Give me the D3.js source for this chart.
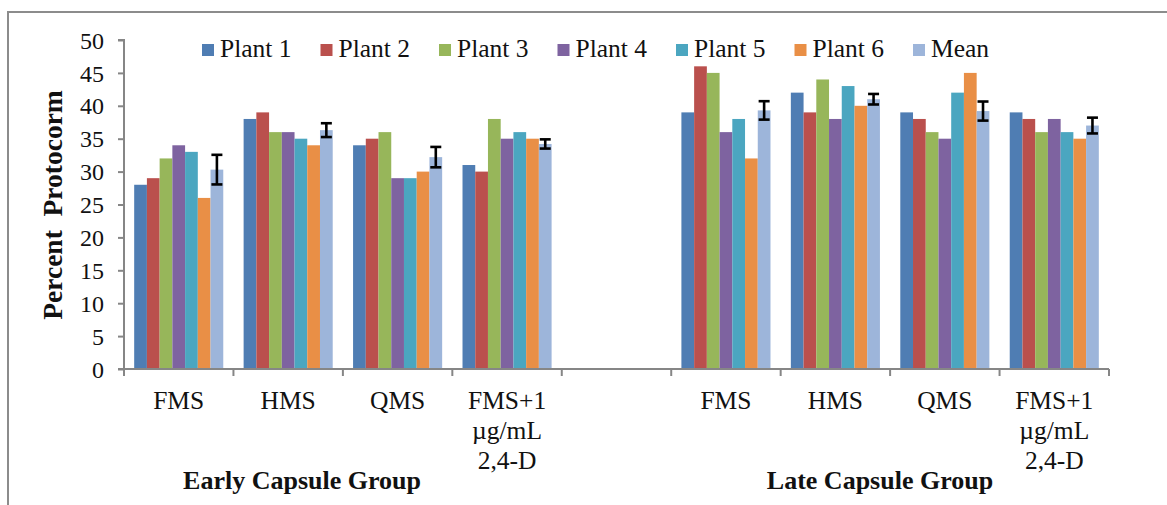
<!DOCTYPE html>
<html>
<head>
<meta charset="utf-8">
<script src="https://cdn.jsdelivr.net/npm/d3@7"></script>
<style>
  html, body { margin: 0; padding: 0; background: #fff; }
  svg { display: block; }
  svg text { font-family: "Liberation Serif", "Times New Roman", serif; }
</style>
</head>
<body>
<svg id="chart" width="1167" height="505"></svg>
<script>
// Treatments along the x axis; the blank slot separates the two capsule groups
const categories = ["E-FMS", "E-HMS", "E-QMS", "E-FMS2", "gap", "L-FMS", "L-HMS", "L-QMS", "L-FMS2"];
const categoryLabels = [
  ["FMS"], ["HMS"], ["QMS"], ["FMS+1", "µg/mL", "2,4-D"], [],
  ["FMS"], ["HMS"], ["QMS"], ["FMS+1", "µg/mL", "2,4-D"]
];
const dataCategories = ["E-FMS", "E-HMS", "E-QMS", "E-FMS2", "L-FMS", "L-HMS", "L-QMS", "L-FMS2"];

const seriesNames = ["Plant 1", "Plant 2", "Plant 3", "Plant 4", "Plant 5", "Plant 6", "Mean"];
const plant1 = [28, 38, 34, 31, 39, 42, 39, 39];
const plant2 = [29, 39, 35, 30, 46, 39, 38, 38];
const plant3 = [32, 36, 36, 38, 45, 44, 36, 36];
const plant4 = [34, 36, 29, 35, 36, 38, 35, 38];
const plant5 = [33, 35, 29, 36, 38, 43, 42, 36];
const plant6 = [26, 34, 30, 35, 32, 40, 45, 35];
const meanValues = [30.3, 36.3, 32.2, 34.2, 39.3, 41.0, 39.2, 37.0];
const meanError = [2.25, 1.05, 1.55, 0.7, 1.4, 0.8, 1.45, 1.2];

const yTicks = [0, 5, 10, 15, 20, 25, 30, 35, 40, 45, 50];
const groupLabels = ["Early Capsule Group", "Late Capsule Group"];
const yTitle = "Percent  Protocorm";

const colors = ["#4F7DB3", "#BA504D", "#97B65A", "#7E63A0", "#4BA6C0", "#E98F46", "#9DB5DA"];

const allSeries = [plant1, plant2, plant3, plant4, plant5, plant6, meanValues];
const FONT = "Liberation Serif, Times New Roman, serif";

const svg = d3.select("#chart");

// page frame
svg.append("path")
  .attr("d", "M8,505 L8,12 L1167,12")
  .attr("fill", "none").attr("stroke", "#8c8c8c").attr("stroke-width", 2);

const plot = { left: 124, right: 1109, top: 40, bottom: 369 };

const x = d3.scaleBand().domain(categories).range([plot.left, plot.right]).paddingInner(0).paddingOuter(0);
const gapFrac = 0.093;
const xs = d3.scaleBand().domain(d3.range(seriesNames.length))
  .range([x.bandwidth() * gapFrac, x.bandwidth() * (1 - gapFrac)]).padding(0);
const y = d3.scaleLinear().domain([0, 50]).range([plot.bottom, plot.top]);

// bars
const g = svg.append("g");
allSeries.forEach((vals, si) => {
  g.append("g").selectAll("rect")
    .data(vals.map((v, i) => ({ cat: dataCategories[i], v })))
    .join("rect")
    .attr("x", d => x(d.cat) + xs(si))
    .attr("y", d => y(d.v))
    .attr("width", xs.bandwidth())
    .attr("height", d => y(0) - y(d.v))
    .attr("fill", colors[si]);
});

// error bars on the mean
const eb = g.append("g").attr("stroke", "#000").attr("stroke-width", 2.6).attr("fill", "none");
meanValues.forEach((m, i) => {
  const cx = x(dataCategories[i]) + xs(6) + xs.bandwidth() / 2;
  const y1 = y(m + meanError[i]), y2 = y(m - meanError[i]);
  eb.append("line").attr("x1", cx).attr("x2", cx).attr("y1", y1).attr("y2", y2);
  eb.append("line").attr("x1", cx - 5.5).attr("x2", cx + 5.5).attr("y1", y1).attr("y2", y1);
  eb.append("line").attr("x1", cx - 5.5).attr("x2", cx + 5.5).attr("y1", y2).attr("y2", y2);
});

// y axis
const yAxis = d3.axisLeft(y).tickValues(yTicks).tickSize(6).tickPadding(14);
const yg = svg.append("g").attr("transform", `translate(${plot.left},0)`).call(yAxis)
  .attr("font-family", FONT);
yg.select(".domain").attr("stroke", "#868686").attr("stroke-width", 2).attr("d", `M-6,${y(50)}H0V${y(0)}`);
yg.selectAll(".tick line").attr("stroke", "#868686").attr("stroke-width", 2);
yg.selectAll(".tick text").attr("font-size", 24).attr("fill", "#111")
  .attr("font-family", FONT).attr("dy", "0.34em");

// x axis
const boundaries = categories.map(c => x(c)).concat([plot.right]);
const xg = svg.append("g");
xg.append("line").attr("x1", plot.left - 6).attr("x2", plot.right).attr("y1", plot.bottom).attr("y2", plot.bottom)
  .attr("stroke", "#868686").attr("stroke-width", 2);
xg.selectAll("line.tk").data(boundaries).join("line").attr("class", "tk")
  .attr("x1", d => d).attr("x2", d => d).attr("y1", plot.bottom).attr("y2", plot.bottom + 7)
  .attr("stroke", "#868686").attr("stroke-width", 2);

categories.forEach((c, i) => {
  const lines = categoryLabels[i];
  lines.forEach((t, li) => {
    xg.append("text")
      .attr("x", x(c) + x.bandwidth() / 2)
      .attr("y", 409 + li * 30)
      .attr("text-anchor", "middle")
      .attr("font-family", FONT)
      .attr("font-size", 25.5)
      .attr("fill", "#111")
      .text(t);
  });
});

// group labels
const groupX = [302, 880];
groupLabels.forEach((t, i) => {
  svg.append("text").attr("x", groupX[i]).attr("y", 489)
    .attr("text-anchor", "middle").attr("font-family", FONT).attr("font-size", 26).attr("font-weight", "bold")
    .attr("fill", "#111").text(t);
});

// y title
svg.append("text")
  .attr("transform", "translate(62,205) rotate(-90)")
  .attr("text-anchor", "middle").attr("font-family", FONT).attr("font-size", 27.5).attr("font-weight", "bold")
  .style("white-space", "pre").attr("fill", "#111").text(yTitle);

// legend
const legend = svg.append("g");
seriesNames.forEach((name, i) => {
  const lx = 202 + i * 118.5;
  legend.append("rect").attr("x", lx).attr("y", 44).attr("width", 12).attr("height", 12).attr("fill", colors[i]);
  legend.append("text").attr("x", lx + 18).attr("y", 57).attr("font-family", FONT)
    .attr("font-size", 25.5).attr("fill", "#111").text(name);
});
</script>
</body>
</html>
